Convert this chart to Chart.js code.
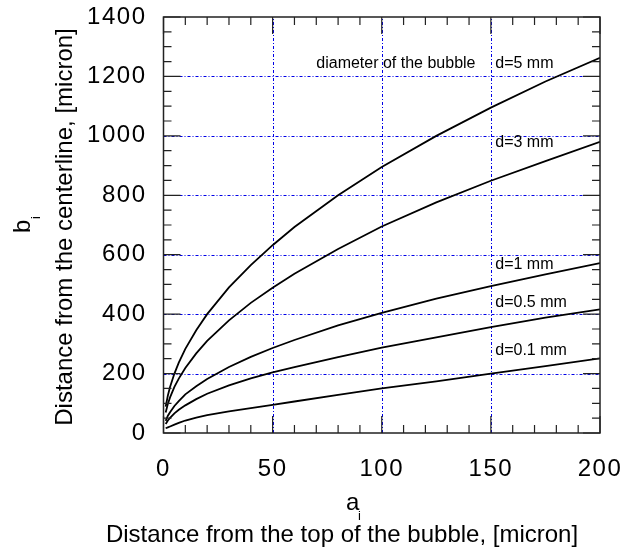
<!DOCTYPE html>
<html lang="en">
<head>
  <meta charset="UTF-8" />
  <title>Bubble profile</title>
  <script src="https://cdn.jsdelivr.net/npm/chart.js@4.4.1/dist/chart.umd.min.js"></script>
  <style>
    body { margin: 0; background: #fff; }
  </style>
</head>
<body>
<canvas id="profileChart" width="631" height="552"></canvas>
<script>
    // a_i, distance from the top of the bubble [micron]
    const aValues = [1, 2, 3, 5, 7, 10, 15, 20, 30, 40, 50, 60, 80, 100, 125, 150, 175, 200];

    // b_i, distance from the centerline [micron], one list per bubble diameter
    const bD5 = [89, 126, 155, 200, 237, 283, 346, 400, 490, 565, 632, 693, 800, 895, 1000, 1095, 1183, 1263];
    const bD3 = [69, 98, 120, 155, 183, 219, 268, 310, 379, 438, 489, 536, 619, 695, 776, 849, 915, 980];
    const bD1 = [41, 58, 70, 91, 107, 130, 157, 182, 222, 256, 286, 313, 362, 404, 452, 494, 534, 572];
    const bD05 = [30, 42, 51, 66, 78, 93, 114, 132, 160, 184, 204, 222, 255, 287, 322, 356, 388, 416];
    const bD01 = [16, 19, 22, 28, 34, 42, 52, 60, 73, 84, 95, 106, 128, 150, 174, 200, 225, 251];

    const xTickValues = [0, 50, 100, 150, 200];
    const xTickLabels = ["0", "50", "100", "150", "200"];
    const yTickLabels = ["0", "200", "400", "600", "800", "1000", "1200", "1400"];

    // curve captions: text, a, b (left edge / baseline)
    const captionText = ["diameter of the bubble", "d=5 mm", "d=3 mm", "d=1 mm", "d=0.5 mm", "d=0.1 mm"];
    const captionA = [70, 152, 152, 152, 152, 152];
    const captionB = [1228, 1228, 962, 552, 425, 263];

    const FONT = "'Liberation Sans', Arial, sans-serif";
    const GRID_BLUE = "#0000e6";

    function series(ys) {
      return ys.map((y, i) => ({ x: aValues[i], y: y }));
    }

    function curve(ys) {
      return {
        data: series(ys),
        borderColor: "#000",
        borderWidth: 1.8,
        pointRadius: 0,
        tension: 0,
        fill: false,
      };
    }

    // dotted blue grid under the curves
    const dottedGrid = {
      id: "dottedGrid",
      beforeDatasetsDraw(chart) {
        const ctx = chart.ctx;
        const xs = chart.scales.x;
        const ys = chart.scales.y;
        const { left, right, top, bottom } = chart.chartArea;
        ctx.save();
        ctx.strokeStyle = GRID_BLUE;
        ctx.lineWidth = 1;
        ctx.setLineDash([3, 2, 1, 2]);
        ctx.beginPath();
        xs.ticks.forEach((t) => {
          if (t.value <= xs.min || t.value >= xs.max) return;
          const px = Math.round(xs.getPixelForValue(t.value)) + 0.5;
          ctx.moveTo(px, bottom);
          ctx.lineTo(px, top);
        });
        ys.ticks.forEach((t) => {
          if (t.value <= ys.min || t.value >= ys.max) return;
          const py = Math.round(ys.getPixelForValue(t.value)) + 0.5;
          ctx.moveTo(left, py);
          ctx.lineTo(right, py);
        });
        ctx.stroke();
        ctx.restore();
      },
    };

    // frame, inward ticks on all four sides, axis titles and captions
    const decorations = {
      id: "decorations",
      beforeDraw(chart) {
        chart.ctx.letterSpacing = "1.5px";
      },
      afterDraw(chart) {
        const ctx = chart.ctx;
        const xs = chart.scales.x;
        const ys = chart.scales.y;
        const { left, right, top, bottom } = chart.chartArea;

        ctx.save();
        ctx.letterSpacing = "0px";
        ctx.strokeStyle = "#222";

        ctx.lineWidth = 1.2;
        ctx.beginPath();
        for (let v = 0; v <= 200; v += 10) {
          const px = xs.getPixelForValue(v);
          const len = v % 50 === 0 ? 17 : 8;
          ctx.moveTo(px, bottom); ctx.lineTo(px, bottom - len);
          ctx.moveTo(px, top); ctx.lineTo(px, top + len);
        }
        for (let v = 0; v <= 1400; v += 50) {
          const py = ys.getPixelForValue(v);
          const len = v % 200 === 0 ? 17 : 8;
          ctx.moveTo(left, py); ctx.lineTo(left + len, py);
          ctx.moveTo(right, py); ctx.lineTo(right - len, py);
        }
        ctx.stroke();

        ctx.lineWidth = 1.5;
        ctx.strokeRect(left, top, right - left, bottom - top);

        ctx.fillStyle = "#000";
        ctx.textBaseline = "alphabetic";

        // captions
        ctx.font = "16px " + FONT;
        ctx.textAlign = "left";
        captionText.forEach((t, i) => {
          ctx.fillText(t, xs.getPixelForValue(captionA[i]), ys.getPixelForValue(captionB[i]));
        });

        // x axis title
        ctx.font = "24px " + FONT;
        ctx.fillText("a", 346, 510);
        ctx.font = "13px " + FONT;
        ctx.fillText("i", 358, 520);
        ctx.font = "24px " + FONT;
        ctx.textAlign = "center";
        ctx.fillText("Distance from the top of the bubble, [micron]", 342, 542);

        // y axis title
        ctx.save();
        ctx.translate(72, 227);
        ctx.rotate(-Math.PI / 2);
        ctx.fillText("Distance from the centerline, [micron]", 0, 0);
        ctx.restore();

        ctx.save();
        ctx.translate(30, 233);
        ctx.rotate(-Math.PI / 2);
        ctx.textAlign = "left";
        ctx.font = "24px " + FONT;
        ctx.fillText("b", 0, 0);
        ctx.font = "13px " + FONT;
        ctx.fillText("i", 14, 10);
        ctx.restore();

        ctx.restore();
      },
    };

    const config = {
      type: "line",
      data: {
        datasets: [curve(bD5), curve(bD3), curve(bD1), curve(bD05), curve(bD01)],
      },
      options: {
        responsive: false,
        animation: false,
        layout: { padding: { top: 17, right: 31, left: 0, bottom: 0 } },
        plugins: {
          legend: { display: false },
          tooltip: { enabled: false },
        },
        scales: {
          x: {
            type: "linear",
            min: 0,
            max: 200,
            afterFit: (scale) => {
              scale.height = 119;
              scale.paddingLeft = 0;
              scale.paddingRight = 0;
            },
            afterBuildTicks: (scale) => {
              scale.ticks = xTickValues.map((v) => ({ value: v }));
            },
            border: { display: false },
            grid: { display: false, drawTicks: false },
            ticks: {
              padding: 22,
              color: "#000",
              font: { family: FONT, size: 24 },
              maxRotation: 0,
              autoSkip: false,
              callback: (v) => xTickLabels[xTickValues.indexOf(v)],
            },
          },
          y: {
            type: "linear",
            min: 0,
            max: 1400,
            afterFit: (scale) => {
              scale.width = 163.5;
              scale.paddingTop = 0;
              scale.paddingBottom = 0;
            },
            border: { display: false },
            grid: { display: false, drawTicks: false },
            ticks: {
              stepSize: 200,
              padding: 17,
              color: "#000",
              font: { family: FONT, size: 24 },
              autoSkip: false,
              callback: (v) => yTickLabels[v / 200],
            },
          },
        },
      },
      plugins: [dottedGrid, decorations],
    };

    window.addEventListener("DOMContentLoaded", () => {
      new Chart(document.getElementById("profileChart"), config);
    });
</script>
</body>
</html>
